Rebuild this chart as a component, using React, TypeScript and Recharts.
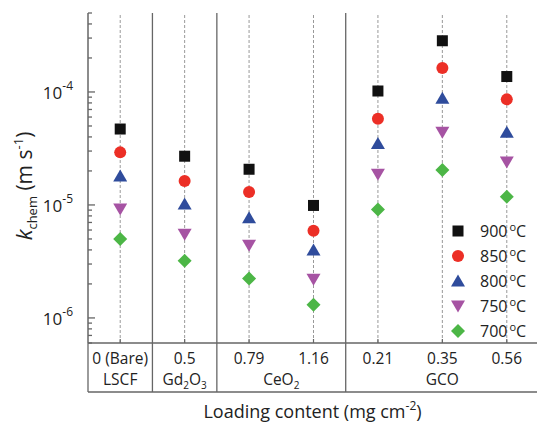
import React from 'react';
import {
  ScatterChart,
  Scatter,
  XAxis,
  YAxis,
  ReferenceLine,
  Legend,
} from 'recharts';

const categories = ['0 (Bare)', '0.5', '0.79', '1.16', '0.21', '0.35', '0.56'];
const groupNames = ['LSCF', 'Gd2O3', 'CeO2', 'GCO'];
const groupSizes = [1, 1, 2, 3];

const k900 = [4.7e-5, 2.7e-5, 2.07e-5, 9.9e-6, 1.02e-4, 2.84e-4, 1.37e-4];
const k850 = [2.92e-5, 1.63e-5, 1.3e-5, 5.9e-6, 5.8e-5, 1.63e-4, 8.6e-5];
const k800 = [1.8e-5, 1.02e-5, 7.7e-6, 4.0e-6, 3.5e-5, 8.8e-5, 4.4e-5];
const k750 = [9.2e-6, 5.5e-6, 4.4e-6, 2.2e-6, 1.87e-5, 4.4e-5, 2.4e-5];
const k700 = [5.0e-6, 3.2e-6, 2.23e-6, 1.31e-6, 9.1e-6, 2.04e-5, 1.18e-5];

const majorTicks = [1e-6, 1e-5, 1e-4];
const yDomain = [6e-7, 5e-4];

const FONT = '"Open Sans", sans-serif';
const FRAME = '#666';

// minor log ticks inside the domain
const yTicks: number[] = [];
[-7, -6, -5, -4].forEach((e) => {
  for (let m = 1; m <= 9; m++) {
    const v = m * Math.pow(10, e);
    if (v >= yDomain[0] && v <= yDomain[1]) yTicks.push(v);
  }
});

// group centres and boundaries from sizes
const groupCenters: number[] = [];
const boundaries: number[] = [-0.5];
let start = 0;
groupSizes.forEach((n) => {
  groupCenters.push(start + (n - 1) / 2);
  start += n;
  boundaries.push(start - 0.5);
});
const innerBoundaries = boundaries.slice(1, -1);
const xTicks = Array.from(
  new Set([...boundaries, ...categories.map((_, i) => i), ...groupCenters])
).sort((a, b) => a - b);

const toPoints = (vals: number[]) => vals.map((v, i) => ({ x: i, y: v }));

const series = [
  { name: '900', data: toPoints(k900), color: '#111111', shape: 'square' },
  { name: '850', data: toPoints(k850), color: '#ec2f26', shape: 'circle' },
  { name: '800', data: toPoints(k800), color: '#2f4c9c', shape: 'triangle' },
  { name: '750', data: toPoints(k750), color: '#a653a3', shape: 'down' },
  { name: '700', data: toPoints(k700), color: '#4cb646', shape: 'diamond' },
];

const Marker = ({ cx, cy, color, shape }: any) => {
  if (shape === 'square') return <rect x={cx - 5.5} y={cy - 5.5} width={11} height={11} fill={color} />;
  if (shape === 'circle') return <circle cx={cx} cy={cy} r={6} fill={color} />;
  if (shape === 'triangle')
    return <polygon points={`${cx - 7},${cy + 5.5} ${cx + 7},${cy + 5.5} ${cx},${cy - 6.5}`} fill={color} />;
  if (shape === 'down')
    return <polygon points={`${cx - 7},${cy - 5.5} ${cx + 7},${cy - 5.5} ${cx},${cy + 6.5}`} fill={color} />;
  return <polygon points={`${cx},${cy - 7} ${cx + 7},${cy} ${cx},${cy + 7} ${cx - 7},${cy}`} fill={color} />;
};

const withSubs = (s: string) =>
  s.split(/(\d)/).filter(Boolean).map((p, i) =>
    /\d/.test(p) ? (
      <tspan key={i} fontSize={10} dy={4}>{p}</tspan>
    ) : (
      <tspan key={i} dy={i === 0 ? 0 : -4}>{p}</tspan>
    )
  );

const YTick = ({ x, y, payload }: any) => {
  const v = payload.value;
  const isMajor = majorTicks.some((m) => Math.abs(m - v) / m < 1e-6);
  return (
    <g>
      <line x1={x} x2={x + (isMajor ? 7 : 4)} y1={y} y2={y} stroke={FRAME} strokeWidth={1.3} />
      {isMajor && (
        <text x={x - 15} y={y + 7} textAnchor="end" fontFamily={FONT} fontSize={17} fill="#222">
          10
          <tspan dy={-9} fontSize={12}>{Math.round(Math.log10(v))}</tspan>
        </text>
      )}
    </g>
  );
};

// bottom "table": row lines at group boundaries, values and group names
const TableTick = ({ x, y, payload }: any) => {
  const v = payload.value;
  const isBoundary = boundaries.includes(v);
  const catIdx = Number.isInteger(v) ? v : -1;
  const grpIdx = groupCenters.indexOf(v);
  return (
    <g>
      {isBoundary && <line x1={x} x2={x} y1={y} y2={y + 49} stroke={FRAME} strokeWidth={1.3} />}
      {catIdx >= 0 && <line x1={x} x2={x} y1={y} y2={y - 4} stroke={FRAME} strokeWidth={1.2} />}
      {catIdx >= 0 && (
        <text x={x} y={y + 21} textAnchor="middle" fontFamily={FONT} fontSize={15.5} fill="#222">
          {categories[catIdx]}
        </text>
      )}
      {grpIdx >= 0 && (
        <text x={x} y={y + 42} textAnchor="middle" fontFamily={FONT} fontSize={15.5} fill="#222">
          {withSubs(groupNames[grpIdx])}
        </text>
      )}
    </g>
  );
};

const YLabel = ({ viewBox }: any) => {
  const cy = viewBox.y + viewBox.height / 2 + 8;
  return (
    <text transform={`translate(32, ${cy}) rotate(-90)`} textAnchor="middle" fontFamily={FONT} fontSize={21} fill="#222">
      <tspan fontStyle="italic" fontSize={22}>k</tspan>
      <tspan fontSize={13} dy={5}>chem</tspan>
      <tspan dy={-5}> (m s</tspan>
      <tspan fontSize={13} dy={-9}>-1</tspan>
      <tspan dy={9}>)</tspan>
    </text>
  );
};

const XLabel = ({ viewBox }: any) => (
  <text x={viewBox.x + viewBox.width / 2 - 1} y={418} textAnchor="middle" fontFamily={FONT} fontSize={18} fill="#222">
    Loading content (mg cm
    <tspan fontSize={12} dy={-8}>-2</tspan>
    <tspan dy={8}>)</tspan>
  </text>
);

const LegendBox = () => (
  <div style={{ fontFamily: FONT, fontSize: 16, color: '#222' }}>
    {series.map((s) => (
      <div key={s.name} style={{ display: 'flex', alignItems: 'center', height: 25 }}>
        <svg width={16} height={16} style={{ marginRight: 14 }}>
          <Marker cx={8} cy={8} color={s.color} shape={s.shape} />
        </svg>
        <span style={{ whiteSpace: 'nowrap' }}>
          {s.name}
          <sup style={{ fontSize: 11, marginLeft: 2 }}>o</sup>C
        </span>
      </div>
    ))}
  </div>
);

const xDomain = [-0.5, categories.length - 0.5];

export default function App() {
  return (
    <div style={{ position: 'absolute', left: 0, top: 0, width: 537, height: 422, overflow: 'hidden', background: '#fff' }}>
      <ScatterChart width={545} height={422} margin={{ top: 13, right: 6, bottom: 0, left: 0 }}>
        <XAxis xAxisId="top" orientation="top" type="number" dataKey="x" domain={xDomain} height={0} tick={false} tickLine={false} axisLine={{ stroke: FRAME, strokeWidth: 1.5 }} />
        <XAxis
          type="number"
          dataKey="x"
          domain={xDomain}
          ticks={xTicks}
          interval={0}
          height={49}
          tickSize={0}
          tickMargin={0}
          tickLine={false}
          tick={<TableTick />}
          axisLine={{ stroke: FRAME, strokeWidth: 1.5 }}
        />
        <XAxis xAxisId="base" type="number" dataKey="x" domain={xDomain} height={30} tick={false} tickLine={false} axisLine={{ stroke: FRAME, strokeWidth: 1.5 }} label={<XLabel />} />
        <YAxis
          type="number"
          dataKey="y"
          scale="log"
          domain={yDomain}
          allowDataOverflow
          ticks={yTicks}
          interval={0}
          width={88}
          tickSize={0}
          tickMargin={0}
          tickLine={false}
          tick={<YTick />}
          axisLine={{ stroke: FRAME, strokeWidth: 1.5 }}
          label={<YLabel />}
        />
        {categories.map((_, i) => (
          <ReferenceLine key={`c${i}`} x={i} stroke="#999" strokeDasharray="3 2" strokeWidth={1} />
        ))}
        {innerBoundaries.map((b) => (
          <ReferenceLine key={`b${b}`} x={b} stroke={FRAME} strokeWidth={1.3} />
        ))}
        <Legend layout="vertical" align="center" verticalAlign="middle" content={<LegendBox />} wrapperStyle={{ position: 'absolute', left: 450, top: 218, width: 100 }} />
        {series.map((s) => (
          <Scatter
            key={s.name}
            name={s.name}
            data={s.data}
            fill={s.color}
            isAnimationActive={false}
            shape={(p: any) => <Marker cx={p.cx} cy={p.cy} color={s.color} shape={s.shape} />}
          />
        ))}
      </ScatterChart>
    </div>
  );
}
